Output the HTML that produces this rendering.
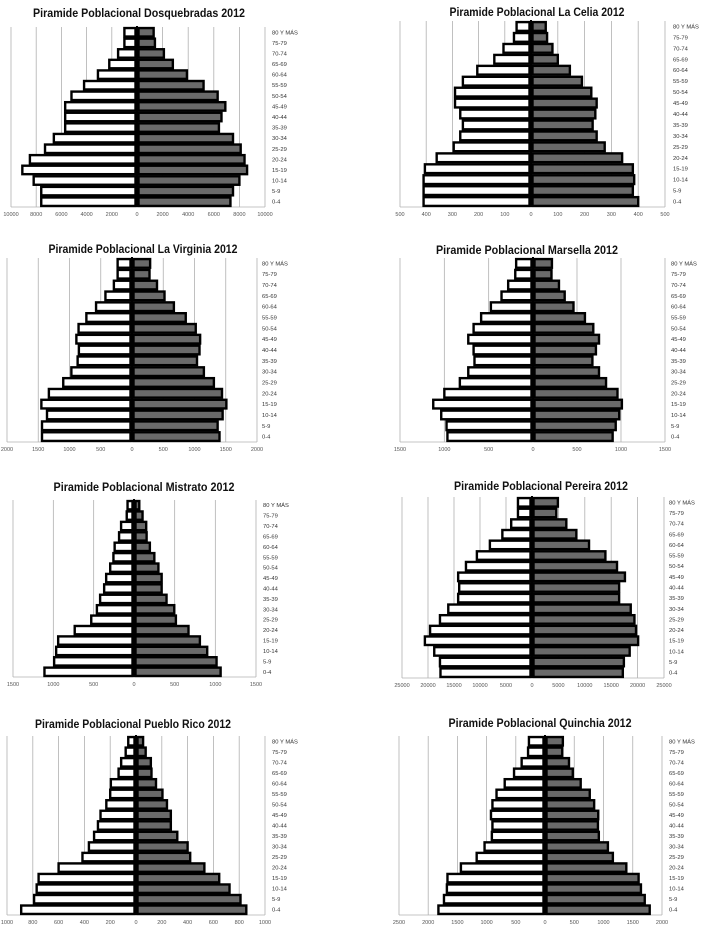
<!DOCTYPE html>
<html><head><meta charset="utf-8"><style>
html,body{margin:0;padding:0;background:#fff;}
svg{display:block;font-family:"Liberation Sans",sans-serif;}
</style></head><body>
<svg id="s" width="704" height="932" viewBox="0 0 704 932"></svg>
<script>
const ages = ["80 Y MÁS","75-79","70-74","65-69","60-64","55-59","50-54","45-49","40-44","35-39","30-34","25-29","20-24","15-19","10-14","5-9","0-4"];
const dosqLeft = [1000,1000,1500,2200,3100,4200,5200,5700,5700,5700,6600,7300,8500,9100,8200,7600,7600];
const dosqRight = [1300,1400,2100,2800,3900,5200,6300,6900,6600,6400,7500,8100,8400,8600,8000,7500,7300];
const dosqTicks = [-10000,-8000,-6000,-4000,-2000,0,2000,4000,6000,8000,10000];
const celiaLeft = [55,65,105,140,205,260,290,290,270,260,270,295,360,405,410,410,410];
const celiaRight = [55,60,80,100,145,190,225,245,240,230,245,275,340,380,385,380,400];
const celiaTicks = [-500,-400,-300,-200,-100,0,100,200,300,400,500];
const virgLeft = [230,230,290,425,575,730,855,890,850,870,970,1100,1330,1450,1360,1440,1440];
const virgRight = [290,280,400,520,670,860,1020,1090,1080,1040,1150,1310,1440,1510,1450,1370,1400];
const virgTicks = [-2000,-1500,-1000,-500,0,500,1000,1500,2000];
const marsLeft = [190,200,280,355,475,585,670,730,670,660,730,825,1000,1125,1035,975,965];
const marsRight = [215,210,295,360,460,590,685,750,715,675,750,830,960,1010,980,940,905];
const marsTicks = [-1500,-1000,-500,0,500,1000,1500];
const mistLeft = [80,90,160,185,240,255,295,345,370,420,460,530,735,940,965,990,1110];
const mistRight = [65,105,150,155,195,250,300,340,340,400,495,515,670,810,900,1015,1065];
const mistTicks = [-1500,-1000,-500,0,500,1000,1500];
const pereLeft = [2700,2700,4000,5700,8100,10600,12700,14200,14000,14200,16100,17700,19600,20600,18800,17700,17600];
const pereRight = [4900,4600,6500,8400,10800,13900,16100,17600,16500,16500,18700,19400,19700,20100,18500,17400,17200];
const pereTicks = [-25000,-20000,-15000,-10000,-5000,0,5000,10000,15000,20000,25000];
const puebLeft = [60,80,115,135,195,200,230,275,295,325,365,415,600,755,770,790,890];
const puebRight = [55,75,115,120,155,205,240,270,270,320,400,420,530,645,725,810,855];
const puebTicks = [-1000,-800,-600,-400,-200,0,200,400,600,800,1000];
const quinLeft = [275,290,400,530,690,830,900,925,900,910,1035,1170,1440,1670,1680,1730,1825];
const quinRight = [305,295,410,475,610,765,840,910,905,920,1075,1160,1390,1600,1640,1705,1790];
const quinTicks = [-2500,-2000,-1500,-1000,-500,0,500,1000,1500,2000];

const NS="http://www.w3.org/2000/svg";
const svg=document.getElementById('s');
function mk(tag,attrs,parent){const e=document.createElementNS(NS,tag);for(const k in attrs)e.setAttribute(k,attrs[k]);(parent||svg).appendChild(e);return e;}

function chart(id,title,left,right,ticks,g){
  const grp=mk('g',{});
  
  
  const minV=ticks[0], maxV=ticks[ticks.length-1];
  const x=v=>g.zero+(v<0? v/(-minV)*(g.zero-g.xl) : v/maxV*(g.xr-g.zero));
  const slot=(g.bottom-g.top)/ages.length;
  const y=i=>g.top+i*slot;
  const t=mk('text',{x:g.tx,y:g.ty,'text-anchor':'middle','font-size':'12','font-weight':'bold',fill:'#111',textLength:g.tw,lengthAdjust:'spacingAndGlyphs'},grp);
  t.textContent=title;
  
  
  ticks.forEach(v=>{
    if(v!==0){
      const l=mk('line',{x1:x(v),x2:x(v),y1:g.top,y2:g.bottom,stroke:'#b0b0b0','stroke-width':'0.8'},grp);
      
      
    }
    const tl=mk('text',{x:x(v),y:g.bottom+9,'text-anchor':'middle','font-size':'5.5',fill:'#555'},grp);
    tl.textContent=String(Math.abs(v));
    
    
  });
  mk('line',{x1:g.xl,x2:g.xr,y1:g.bottom,y2:g.bottom,stroke:'#b0b0b0','stroke-width':'0.8'},grp);
  const bh=slot*0.8;
  ages.forEach((a,i)=>{
    const yc=y(i)+slot/2;
    const lw=x(0)-x(-left[i]);
    const rb=mk('rect',{x:x(-left[i]),y:yc-bh/2,width:Math.max(lw-1.5,0),height:bh,fill:'#fff',stroke:'#000','stroke-width':'2.4'},grp);
    
    
    const rw=x(right[i])-x(0);
    const gb=mk('rect',{x:x(0)+1.5,y:yc-bh/2,width:Math.max(rw-1.5,0),height:bh,fill:'#6a6a6a',stroke:'#000','stroke-width':'2.4'},grp);
    
    
    const al=mk('text',{x:g.lx,y:yc+2,'font-size':'5.8',fill:'#333'},grp);
    al.textContent=a;
    
    
  });
  const ax=mk('line',{x1:x(0),x2:x(0),y1:g.top-1,y2:g.bottom,stroke:'#000','stroke-width':'2'},grp);
  
  
}

chart('dosquebradas','Piramide Poblacional Dosquebradas 2012',dosqLeft,dosqRight,dosqTicks,{xl:11,zero:137,xr:265,top:27,bottom:207,tx:139,ty:17,tw:212,lx:272});
chart('la-celia','Piramide Poblacional La Celia 2012',celiaLeft,celiaRight,celiaTicks,{xl:400,zero:531,xr:665,top:21,bottom:207,tx:537,ty:16,tw:175,lx:673});
chart('la-virginia','Piramide Poblacional La Virginia 2012',virgLeft,virgRight,virgTicks,{xl:7,zero:132,xr:257,top:258,bottom:442,tx:143,ty:253,tw:189,lx:262});
chart('marsella','Piramide Poblacional Marsella 2012',marsLeft,marsRight,marsTicks,{xl:400,zero:533,xr:665,top:258,bottom:442,tx:527,ty:254,tw:182,lx:671});
chart('mistrato','Piramide Poblacional Mistrato 2012',mistLeft,mistRight,mistTicks,{xl:13,zero:134,xr:256,top:500,bottom:677,tx:144,ty:491,tw:181,lx:263});
chart('pereira','Piramide Poblacional Pereira 2012',pereLeft,pereRight,pereTicks,{xl:402,zero:532,xr:664,top:497,bottom:678,tx:541,ty:490,tw:174,lx:669});
chart('pueblo-rico','Piramide Poblacional Pueblo Rico 2012',puebLeft,puebRight,puebTicks,{xl:7,zero:136,xr:265,top:736,bottom:915,tx:133,ty:728,tw:196,lx:272});
chart('quinchia','Piramide Poblacional Quinchia 2012',quinLeft,quinRight,quinTicks,{xl:399,zero:545,xr:662,top:736,bottom:915,tx:540,ty:727,tw:183,lx:669});
</script>
</body></html>
